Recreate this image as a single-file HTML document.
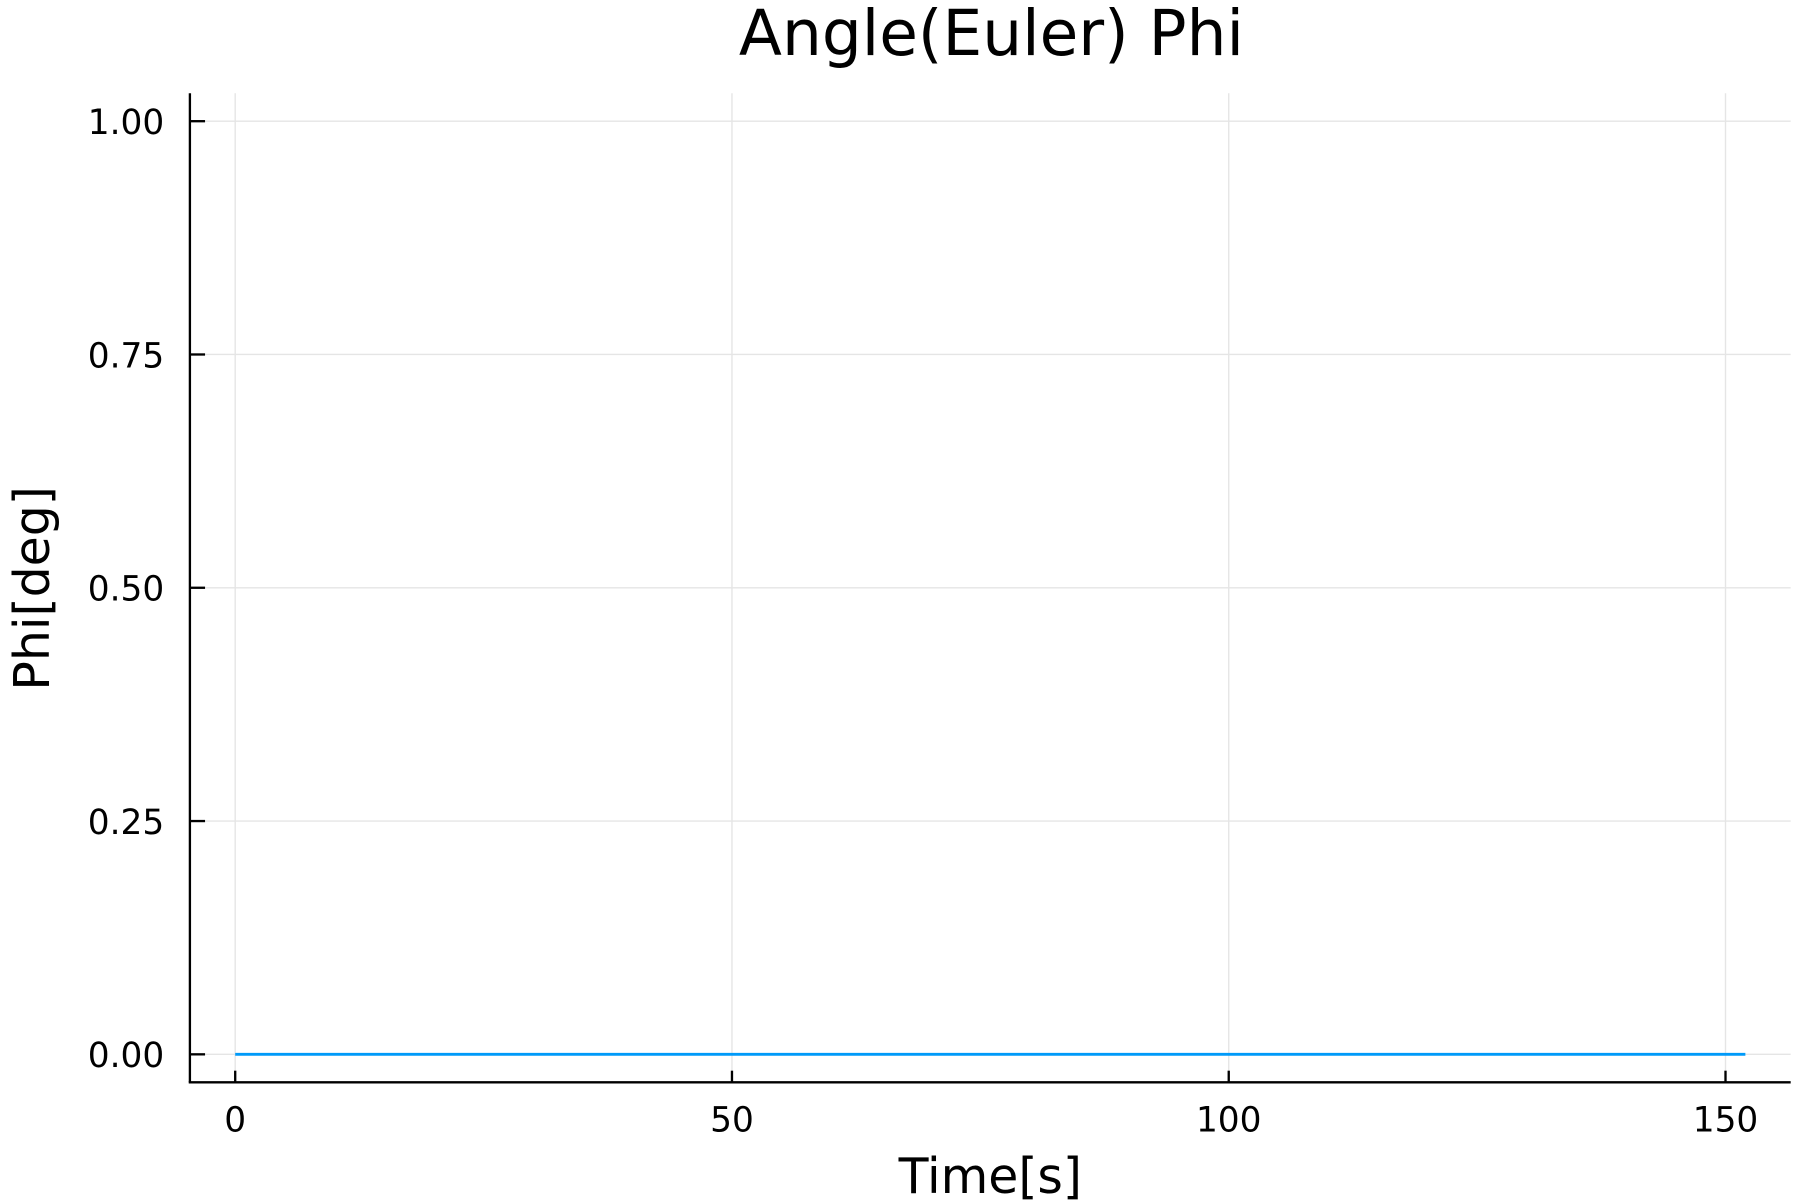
<!DOCTYPE html>
<html><head><meta charset="utf-8"><style>
html,body{margin:0;padding:0;background:#fff;}
svg{display:block;}
text{font-family:"DejaVu Sans","Liberation Sans",sans-serif;}
</style></head><body>
<svg id="chart" width="1800" height="1200" viewBox="0 0 1545 1030" xmlns="http://www.w3.org/2000/svg">
<rect width="1545" height="1030" fill="#fff"/>
<text x="851" y="47" font-size="54" text-anchor="middle">Angle(Euler) Phi</text>
<g id="grid"></g>
<g id="ticks"></g>
<line x1="163" y1="80" x2="163" y2="929" stroke="#000" stroke-width="2"/>
<line x1="162" y1="929" x2="1537" y2="929" stroke="#000" stroke-width="2"/>
<g id="series"></g>
<text x="850" y="1024" font-size="42" text-anchor="middle">Time[s]</text>
<text x="0" y="0" font-size="42" text-anchor="middle" transform="translate(42,505) rotate(-90)">Phi[deg]</text>
</svg>
<script>
const xTicks = [0, 50, 100, 150];
const xTickLabels = ["0", "50", "100", "150"];
const yTicks = [0, 0.25, 0.5, 0.75, 1.0];
const yTickLabels = ["0.00", "0.25", "0.50", "0.75", "1.00"];
const timeValues = [0, 152];
const phiValues = [0, 0];

const NS = "http://www.w3.org/2000/svg";
const xMin = -4.56, xMax = 156.56, yMin = -0.03, yMax = 1.03;
const L = 163, R = 1537, T = 80, B = 929;
function sx(v){ return L + (v - xMin) / (xMax - xMin) * (R - L); }
function sy(v){ return B - (v - yMin) / (yMax - yMin) * (B - T); }
function mk(tag, attrs){ const e = document.createElementNS(NS, tag); for (const k in attrs) e.setAttribute(k, attrs[k]); return e; }

const grid = document.getElementById('grid'), ticks = document.getElementById('ticks'), series = document.getElementById('series');
xTicks.forEach((v, i) => {
  const g = mk('line', {x1: sx(v), x2: sx(v), y1: T, y2: B, stroke: '#e5e5e5', 'stroke-width': 1.2});
  
  
  grid.appendChild(g);
  const t = mk('line', {x1: sx(v), x2: sx(v), y1: B, y2: B - 10, stroke: '#000', 'stroke-width': 2});
  
  
  ticks.appendChild(t);
  const lb = mk('text', {x: sx(v), y: 971, 'font-size': 29.5, 'text-anchor': 'middle'});
  lb.textContent = xTickLabels[i];
  
  
  ticks.appendChild(lb);
});
yTicks.forEach((v, i) => {
  const g = mk('line', {x1: L, x2: R, y1: sy(v), y2: sy(v), stroke: '#e5e5e5', 'stroke-width': 1.2});
  
  
  grid.appendChild(g);
  const t = mk('line', {x1: L, x2: L + 13, y1: sy(v), y2: sy(v), stroke: '#000', 'stroke-width': 2});
  
  
  ticks.appendChild(t);
  const lb = mk('text', {x: 141, y: sy(v) + 11, 'font-size': 29.5, 'text-anchor': 'end'});
  lb.textContent = yTickLabels[i];
  
  
  ticks.appendChild(lb);
});
const pts = timeValues.map((t, i) => sx(t) + ',' + sy(phiValues[i])).join(' ');
const line = mk('polyline', {points: pts, fill: 'none', stroke: '#009af9', 'stroke-width': 2.5});


series.appendChild(line);
</script>
</body></html>
